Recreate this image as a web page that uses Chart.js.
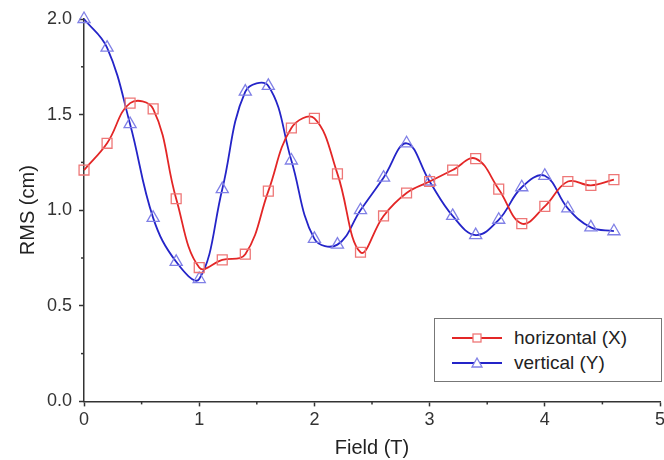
<!DOCTYPE html>
<html>
<head>
<meta charset="utf-8">
<script src="https://cdn.jsdelivr.net/npm/chart.js@4/dist/chart.umd.min.js"></script>
<style>
    html, body { margin: 0; padding: 0; background: #fff; }
    #wrap { position: relative; width: 664px; height: 460px; }
    #legend {
        position: absolute; left: 434px; top: 318px; width: 228px; height: 64px;
        border: 1px solid #777; box-sizing: border-box; background: #fff;
        font-family: "Liberation Sans", Arial, sans-serif; font-size: 19px; color: #222;
        padding-top: 6px;
    }
    .legend-row { display: flex; align-items: center; height: 25px; }
    .legend-row svg { margin-left: 17px; margin-right: 12px; }
</style>
</head>
<body>
<div id="wrap">
    <canvas id="chart" width="664" height="460"></canvas>
    <div id="legend"></div>
</div>
<script>
const fieldValues = [0, 0.2, 0.4, 0.6, 0.8, 1.0, 1.2, 1.4, 1.6, 1.8, 2.0, 2.2, 2.4, 2.6, 2.8, 3.0, 3.2, 3.4, 3.6, 3.8, 4.0, 4.2, 4.4, 4.6];
const horizontalRms = [1.21, 1.35, 1.56, 1.53, 1.06, 0.70, 0.74, 0.77, 1.10, 1.43, 1.48, 1.19, 0.78, 0.97, 1.09, 1.15, 1.21, 1.27, 1.11, 0.93, 1.02, 1.15, 1.13, 1.16];
const verticalRms = [2.00, 1.85, 1.45, 0.96, 0.73, 0.64, 1.11, 1.62, 1.65, 1.26, 0.85, 0.82, 1.00, 1.17, 1.35, 1.15, 0.97, 0.87, 0.95, 1.12, 1.18, 1.01, 0.91, 0.89];
const xTicks = [0, 1, 2, 3, 4, 5];
const yTicks = [0, 0.5, 1.0, 1.5, 2.0];
const xMinorTicks = [0.5, 1.5, 2.5, 3.5, 4.5];
const yMinorTicks = [0.25, 0.75, 1.25, 1.75];

const series = [
    { label: 'horizontal (X)', values: horizontalRms, line: '#e32626', marker: '#ee7777', style: 'rect', radius: 7 },
    { label: 'vertical (Y)', values: verticalRms, line: '#2424c8', marker: '#8080e6', style: 'triangle', radius: 7 }
];

const fontFamily = '"Liberation Sans", Arial, sans-serif';

// minor tick marks, placed with the scales
const minorTicks = {
    id: 'minorTicks',
    afterDraw(chart) {
        const { ctx, scales } = chart;
        const x = scales.x, y = scales.y;
        ctx.save();
        ctx.strokeStyle = '#333';
        ctx.lineWidth = 1.5;
        xMinorTicks.forEach((v) => {
            const px = x.getPixelForValue(v);
            ctx.beginPath();
            ctx.moveTo(px, y.bottom);
            ctx.lineTo(px, y.bottom + 3);
            ctx.stroke();
        });
        yMinorTicks.forEach((v) => {
            const py = y.getPixelForValue(v);
            ctx.beginPath();
            ctx.moveTo(x.left, py);
            ctx.lineTo(x.left - 3, py);
            ctx.stroke();
        });
        ctx.restore();
    }
};

new Chart(document.getElementById('chart'), {
    type: 'line',
    data: {
        datasets: series.map((s) => ({
            label: s.label,
            data: fieldValues.map((f, i) => ({ x: f, y: s.values[i] })),
            borderColor: s.line,
            borderWidth: 1.8,
            tension: 0.4,
            pointStyle: s.style,
            pointRadius: s.radius,
            pointBorderColor: s.marker,
            pointBackgroundColor: 'rgba(255,255,255,0)',
            pointBorderWidth: 1.3,
            fill: false,
            clip: false
        }))
    },
    options: {
        responsive: false,
        animation: false,
        layout: { autoPadding: false, padding: { left: 16, right: 4, top: 19, bottom: 0 } },
        plugins: { legend: { display: false }, tooltip: { enabled: false } },
        scales: {
            x: {
                type: 'linear',
                min: 0,
                max: 5,
                afterBuildTicks: (scale) => { scale.ticks = xTicks.map((v) => ({ value: v })); },
                afterFit: (scale) => { scale.paddingRight = 0; },
                ticks: { color: '#333', font: { family: fontFamily, size: 18 }, padding: 3, callback: (v) => String(v) },
                grid: { drawOnChartArea: false, drawTicks: true, tickLength: 5, tickColor: '#333', tickWidth: 1.5 },
                border: { display: true, color: '#333', width: 1.5 },
                title: { display: true, text: 'Field (T)', color: '#222', font: { family: fontFamily, size: 20 }, padding: { top: 2, bottom: 0 } }
            },
            y: {
                type: 'linear',
                min: 0,
                max: 2,
                afterBuildTicks: (scale) => { scale.ticks = yTicks.map((v) => ({ value: v })); },
                ticks: { color: '#333', font: { family: fontFamily, size: 18 }, padding: 7, callback: (v) => Number(v).toFixed(1) },
                grid: { drawOnChartArea: false, drawTicks: true, tickLength: 5, tickColor: '#333', tickWidth: 1.5 },
                border: { display: true, color: '#333', width: 1.5 },
                title: { display: true, text: 'RMS (cm)', color: '#222', font: { family: fontFamily, size: 20 }, padding: { top: 0, bottom: 0 } }
            }
        }
    },
    plugins: [minorTicks]
});

document.getElementById('legend').innerHTML = series.map((s) => {
    const mark = s.style === 'rect'
        ? `<rect x="21" y="6" width="8" height="8" fill="#fff" stroke="${s.marker}" stroke-width="1.3"/>`
        : `<polygon points="25,5 30,14 20,14" fill="#fff" stroke="${s.marker}" stroke-width="1.3"/>`;
    return `<div class="legend-row">
        <svg width="50" height="20"><line x1="0" y1="10" x2="50" y2="10" stroke="${s.line}" stroke-width="1.8"/>${mark}</svg>
        <span>${s.label}</span>
    </div>`;
}).join('');
</script>
</body>
</html>
